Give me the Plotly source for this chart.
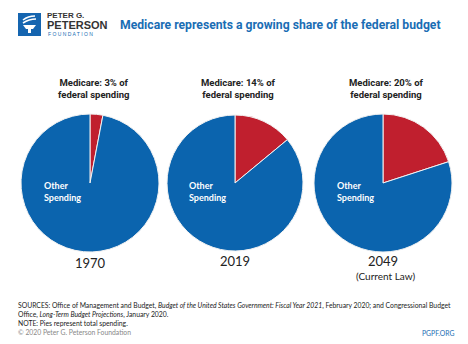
import plotly.graph_objects as go

years = ["1970", "2019", "2049"]
year_sub = ["", "", "(Current Law)"]
medicare_pct = [3, 14, 20]
other_pct = [97, 86, 80]
slice_labels = ["Medicare", "Other Spending"]
subtitles = ["Medicare: 3% of<br>federal spending",
             "Medicare: 14% of<br>federal spending",
             "Medicare: 20% of<br>federal spending"]

W, H = 468, 344
BLUE = "#0b64ae"
RED = "#c01f2e"
TITLE_BLUE = "#1a6db4"

# pie centers / radii in pixels (layout only)
centers = [(90, 183, 69), (235, 183, 68), (383, 183, 69)]

fig = go.Figure()
for i, (cx, cy, r) in enumerate(centers):
    fig.add_trace(go.Pie(
        labels=slice_labels,
        values=[medicare_pct[i], other_pct[i]],
        sort=False, direction="clockwise", rotation=0,
        marker=dict(colors=[RED, BLUE], line=dict(color="#f2f2f2", width=1)),
        textinfo="none", hoverinfo="label+percent", showlegend=False,
        domain=dict(x=[(cx - r) / W, (cx + r) / W],
                    y=[(H - cy - r) / H, (H - cy + r) / H]),
    ))

def px(x):
    return x / W

def py(y):
    return 1 - y / H

ann = []
FONT = "Roboto, sans-serif"
for i, (cx, cy, r) in enumerate(centers):
    ann.append(dict(x=px(cx + 3), y=py(88), text="<b>" + subtitles[i] + "</b>",
                    showarrow=False, xanchor="center", yanchor="middle",
                    font=dict(family=FONT, size=9.5, color="#222222"), align="center"))
    ann.append(dict(x=px(cx - 48), y=py(191), text="<b>Other<br>Spending</b>",
                    showarrow=False, xanchor="left", yanchor="middle", align="left",
                    font=dict(family="Lato", size=9, color="white")))
    ann.append(dict(x=px(cx), y=py(263 if i == 0 else 261), text=years[i],
                    showarrow=False, xanchor="center", yanchor="middle",
                    font=dict(family="Lato", size=13, color="#222222")))
    if year_sub[i]:
        ann.append(dict(x=px(cx + 2), y=py(276), text=year_sub[i],
                        showarrow=False, xanchor="center", yanchor="middle",
                        font=dict(family="Lato", size=10, color="#222222")))

# title
ann.append(dict(x=px(118), y=py(25), text="<b>Medicare represents a growing share of the federal budget</b>",
                showarrow=False, xanchor="left", yanchor="middle",
                font=dict(family=FONT, size=12.2, color=TITLE_BLUE)))
# logo text
ann.append(dict(x=px(45), y=py(16), text="<b>PETER G.</b>", showarrow=False,
                xanchor="left", yanchor="middle",
                font=dict(family="Liberation Sans", size=8, color="#333333")))
ann.append(dict(x=px(45), y=py(25), text="<b>PETERSON</b>", showarrow=False,
                xanchor="left", yanchor="middle",
                font=dict(family="Liberation Sans", size=11, color="#333333")))
ann.append(dict(x=px(46), y=py(34), text="F O U N D A T I O N", showarrow=False,
                xanchor="left", yanchor="middle",
                font=dict(family="Liberation Sans", size=5, color=TITLE_BLUE)))

foot = [
    "SOURCES: Office of Management and Budget, <i>Budget of the United States Government: Fiscal Year 2021</i>, February 2020; and Congressional Budget",
    "Office, <i>Long-Term Budget Projections</i>, January 2020.",
    "NOTE: Pies represent total spending.",
]
for j, (t, yy) in enumerate(zip(foot, [305, 314, 323])):
    ann.append(dict(x=px(16), y=py(yy), text=t, showarrow=False, xanchor="left",
                    yanchor="middle", font=dict(family="Lato", size=6.8, color="#222222")))
ann.append(dict(x=px(16), y=py(332), text="© 2020 Peter G. Peterson Foundation", showarrow=False,
                xanchor="left", yanchor="middle",
                font=dict(family="Lato", size=6.8, color="#888888")))
ann.append(dict(x=px(456), y=py(333), text="PGPF.ORG", showarrow=False,
                xanchor="right", yanchor="middle",
                font=dict(family="Lato", size=6.8, color=TITLE_BLUE)))

shapes = [
    dict(type="rect", xref="paper", yref="paper", x0=px(18), x1=px(41), y0=py(36), y1=py(13),
         fillcolor="#1565b0", line=dict(width=0)),
    # torch cup
    dict(type="path", xref="paper", yref="paper",
         path=f"M {px(23)} {py(25)} L {px(36)} {py(25)} L {px(33)} {py(29)} L {px(26)} {py(29)} Z",
         fillcolor="white", line=dict(width=0)),
    dict(type="rect", xref="paper", yref="paper", x0=px(28), x1=px(31), y0=py(33), y1=py(29),
         fillcolor="white", line=dict(width=0)),
    # flame swooshes
    dict(type="path", xref="paper", yref="paper",
         path=f"M {px(23)} {py(23)} Q {px(29)} {py(19)} {px(36)} {py(19)}",
         line=dict(color="white", width=1.6)),
    dict(type="path", xref="paper", yref="paper",
         path=f"M {px(23)} {py(20)} Q {px(28)} {py(16)} {px(35)} {py(16)}",
         line=dict(color="white", width=1.6)),
]

fig.update_layout(
    width=W, height=H, margin=dict(l=0, r=0, t=0, b=0),
    paper_bgcolor="white", plot_bgcolor="white",
    annotations=ann, shapes=shapes,
)
fig.write_html("out.html")
